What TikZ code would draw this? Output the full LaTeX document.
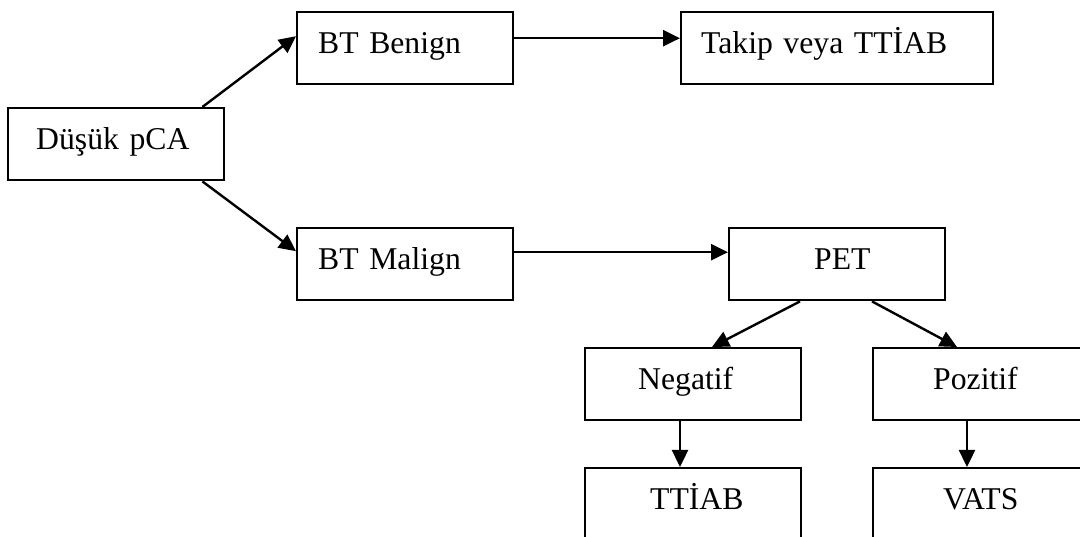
\documentclass[tikz,border=0pt]{standalone}
\usepackage{fontspec}
\setmainfont{Liberation Serif}
\usetikzlibrary{arrows.meta}
\begin{document}
\begin{tikzpicture}[x=1pt,y=-1pt,
  box/.style={draw=black, line width=2.4pt, rectangle, anchor=north west,
    inner xsep=0pt, inner ysep=0pt, text height=41pt, text depth=31pt,
    text width=#1, align=left, font=\fontsize{31.7pt}{38pt}\selectfont},
  box/.default=216pt,
  conn/.style={line width=2.4pt, -{Triangle[length=17pt,width=16pt]}}]
\useasboundingbox (0,0) rectangle (1080,537);
\clip (0,0) rectangle (1080,537);
\node[box] (dusuk) at (7,107) {\hspace*{28pt}Düşük pCA};
\node[box] (benign) at (296,11) {\hspace*{21pt}BT Benign};
\node[box=312pt] (takip) at (680,11) {\hspace*{20pt}Takip veya TTİAB};
\node[box] (malign) at (296,227) {\hspace*{21pt}BT Malign};
\node[box] (pet) at (728,227) {\hspace*{85pt}PET};
\node[box] (negatif) at (584,347) {\hspace*{53pt}Negatif};
\node[box] (pozitif) at (872,347) {\hspace*{60pt}Pozitif};
\node[box] (ttiab) at (584,467) {\hspace*{65pt}TTİAB};
\node[box] (vats) at (872,467) {\hspace*{70pt}VATS};
\draw[conn] ([xshift=-23pt]dusuk.north east) -- ([yshift=12pt]benign.west);
\draw[conn] ([xshift=-23pt]dusuk.south east) -- ([yshift=13pt]malign.west);
\draw[conn] ([yshift=10pt]benign.east) -- ([yshift=10pt]takip.west);
\draw[conn] ([yshift=12pt]malign.east) -- ([yshift=12pt]pet.west);
\draw[conn] ([xshift=72pt]pet.south west) -- ([xshift=128pt]negatif.north west);
\draw[conn] ([xshift=144pt]pet.south west) -- ([xshift=85pt]pozitif.north west);
\draw[conn] ([xshift=96pt]negatif.south west) -- ([xshift=96pt]ttiab.north west);
\draw[conn] ([xshift=95pt]pozitif.south west) -- ([xshift=95pt]vats.north west);
\end{tikzpicture}
\end{document}
